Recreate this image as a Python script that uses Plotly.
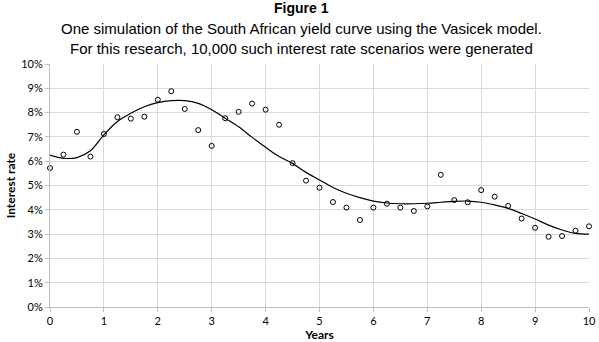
import plotly.graph_objects as go

years = [i * 0.25 for i in range(41)]
simulated_rate = [5.72, 6.27, 7.21, 6.19, 7.12, 7.81, 7.75, 7.83, 8.53, 8.88,
                  8.15, 7.28, 6.63, 7.77, 8.03, 8.37, 8.12, 7.50, 5.92, 5.20,
                  4.91, 4.32, 4.09, 3.58, 4.09, 4.25, 4.09, 3.95, 4.14, 5.44,
                  4.40, 4.31, 4.81, 4.54, 4.16, 3.64, 3.26, 2.89, 2.92, 3.14,
                  3.32]
curve_years = [i * 0.25 for i in range(41)]
curve_rate = [6.25, 6.12, 6.15, 6.43, 7.08, 7.63, 7.97, 8.24, 8.41, 8.49,
              8.49, 8.38, 8.12, 7.77, 7.42, 6.98, 6.57, 6.19, 5.91, 5.54,
              5.23, 4.92, 4.68, 4.50, 4.36, 4.28, 4.25, 4.25, 4.27, 4.31,
              4.35, 4.36, 4.31, 4.20, 4.06, 3.85, 3.62, 3.37, 3.17, 3.03,
              3.00]
x_ticks = list(range(11))
y_ticks = list(range(0, 11))
y_tick_labels = [f"{v}%" for v in y_ticks]

fig = go.Figure()
fig.add_trace(go.Scatter(
    x=curve_years, y=curve_rate, mode="lines",
    line=dict(color="black", width=1.2, shape="spline", smoothing=1.0),
    hoverinfo="skip", showlegend=False))
fig.add_trace(go.Scatter(
    x=years, y=simulated_rate, mode="markers",
    marker=dict(symbol="circle-open", size=5, color="black", line=dict(width=1)),
    cliponaxis=False, showlegend=False))

fig.update_layout(
    width=599, height=342,
    margin=dict(l=50, r=10, t=64, b=35),
    paper_bgcolor="white", plot_bgcolor="white",
    font=dict(family="Lato, Liberation Sans, sans-serif", color="#222"),
)
fig.add_annotation(text="<b>Figure 1</b>", xref="paper", yref="paper",
                   x=0.4675, y=1, yshift=56, xanchor="center", yanchor="middle",
                   showarrow=False,
                   font=dict(family="Liberation Sans, Arial", size=14, color="black"))
fig.add_annotation(text="One simulation of the South African yield curve using the Vasicek model.<br>For this research, 10,000 such interest rate scenarios were generated",
                   xref="paper", yref="paper", x=0.4675, y=1, yshift=26,
                   xanchor="center", yanchor="middle", showarrow=False,
                   font=dict(family="Liberation Sans, Arial", size=15, color="black"))

fig.update_xaxes(
    range=[0, 10], tickvals=x_ticks, ticktext=[str(v) for v in x_ticks],
    showgrid=True, gridcolor="#d9d9d9", gridwidth=1,
    showline=True, linecolor="#bfbfbf", linewidth=1,
    ticks="outside", ticklen=4, tickcolor="#bfbfbf",
    tickfont=dict(size=11, color="black"),
    title=dict(text="<b>Years</b>", font=dict(size=12, color="black"), standoff=1),
    zeroline=False, automargin=False)
fig.update_yaxes(
    range=[0, 10], tickvals=y_ticks, ticktext=y_tick_labels,
    showgrid=True, gridcolor="#d9d9d9", gridwidth=1,
    showline=True, linecolor="#bfbfbf", linewidth=1,
    ticks="outside", ticklen=4, tickcolor="#bfbfbf",
    tickfont=dict(size=11, color="black"),
    title=dict(text="<b>Interest rate</b>", font=dict(size=12, color="black"), standoff=3),
    zeroline=False, automargin=False)

fig.write_html("out.html", config={"displayModeBar": False},
               post_script="document.body.style.margin='0px';")
